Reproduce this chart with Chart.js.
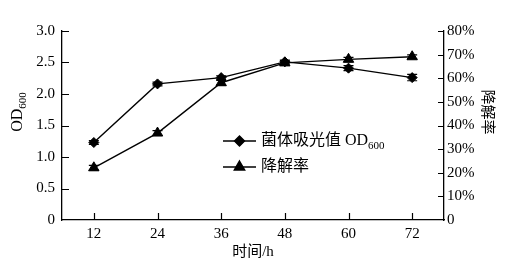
<!doctype html><html lang="zh">
<head>
<meta charset="utf-8">
<title>OD600 与降解率</title>
<script src="https://cdn.jsdelivr.net/npm/chart.js@4"></script>
<style>
html,body{margin:0;padding:0;background:#fff}
#wrap{width:525px;height:276px}
</style>
</head>
<body>
<div id="wrap"><canvas id="c" width="525" height="276"></canvas></div>
<script>
// data
const hours=['12','24','36','48','60','72'];
const od600=[1.23,2.16,2.26,2.51,2.41,2.26];
const odErr=[0.03,0.03,0.03,0.03,0.04,0.05];
const degr=[22.1,36.8,58.1,66.5,68.0,69.1];
const degrErr=[1.0,1.0,1.0,1.0,0.8,0.8];
const odTicks=[0,0.5,1,1.5,2,2.5,3];
const pctTicks=[0,10,20,30,40,50,60,70,80];

const SERIF='"Liberation Serif","Times New Roman","Noto Sans CJK SC",serif';
const f=(s)=>s+'px '+SERIF;

// inner tick marks, error bars, axis titles and legend
const extras={id:'extras',afterDatasetsDraw(ch){
  const c=ch.ctx,a=ch.chartArea,x=ch.scales.x,y=ch.scales.y,y1=ch.scales.y1;
  c.save();c.strokeStyle='#000';c.fillStyle='#000';c.lineWidth=1.2;
  // ticks pointing inward
  c.beginPath();
  y.ticks.forEach(t=>{const p=Math.round(y.getPixelForValue(t.value))+.5;if(p>a.bottom-1)return;c.moveTo(a.left,p);c.lineTo(a.left+7,p)});
  y1.ticks.forEach(t=>{const p=Math.round(y1.getPixelForValue(t.value))+.5;if(p>a.bottom-1)return;c.moveTo(a.right,p);c.lineTo(a.right-6,p)});
  hours.forEach((h,i)=>{const p=Math.round(x.getPixelForValue(i))+.5;c.moveTo(p,a.bottom);c.lineTo(p,a.bottom-7)});
  c.stroke();
  // error bars
  c.beginPath();
  od600.forEach((v,i)=>{const px=x.getPixelForValue(i),t=y.getPixelForValue(v+odErr[i]),b=y.getPixelForValue(v-odErr[i]);
    c.moveTo(px,t);c.lineTo(px,b);c.moveTo(px-5,t);c.lineTo(px+5,t);c.moveTo(px-5,b);c.lineTo(px+5,b)});
  degr.forEach((v,i)=>{const px=x.getPixelForValue(i),t=y1.getPixelForValue(v+degrErr[i]),b=y1.getPixelForValue(v-degrErr[i]);
    c.moveTo(px,t);c.lineTo(px,b);c.moveTo(px-5,t);c.lineTo(px+5,t);c.moveTo(px-5,b);c.lineTo(px+5,b)});
  c.stroke();
  // x title
  c.font=f(15);c.textAlign='center';c.textBaseline='middle';
  c.fillText('时间/h',(a.left+a.right)/2,252);
  // left title OD600 rotated
  c.save();c.translate(18,112);c.rotate(-Math.PI/2);
  c.textAlign='left';c.textBaseline='middle';
  c.font=f(16);const w1=c.measureText('OD').width;c.font=f(11);const w2=c.measureText('600').width;
  let sx=-(w1+w2)/2;c.font=f(16);c.fillText('OD',sx,0);c.font=f(11);c.fillText('600',sx+w1,5);
  c.restore();
  // right title rotated clockwise
  c.save();c.translate(487,112);c.rotate(Math.PI/2);
  c.font=f(15);c.textAlign='center';c.textBaseline='middle';c.fillText('降解率',0,0);c.restore();
  // legend
  const L=[{txt:'菌体吸光值 OD',sub:'600',style:'rectRot',r:5,y:141},{txt:'降解率',style:'triangle',r:6,y:167}];
  L.forEach(it=>{
    c.beginPath();c.lineWidth=1.4;c.moveTo(223,it.y);c.lineTo(256,it.y);c.stroke();
    Chart.helpers.drawPoint(c,{pointStyle:it.style,radius:it.r,rotation:0,borderWidth:1},239.5,it.y);c.fill();
    c.font=f(16);c.textAlign='left';c.textBaseline='middle';c.fillText(it.txt,261,it.y);
    if(it.sub){const w=c.measureText(it.txt).width;c.font=f(11);c.fillText(it.sub,261+w,it.y+5)}
  });
  c.restore();
}};

new Chart(document.getElementById('c'),{
  type:'line',
  data:{labels:hours,datasets:[
    {label:'菌体吸光值 OD600',data:od600,yAxisID:'y',borderColor:'#000',backgroundColor:'#000',borderWidth:1.4,
     pointStyle:'rectRot',pointRadius:5,pointBorderWidth:1,tension:0},
    {label:'降解率',data:degr,yAxisID:'y1',borderColor:'#000',backgroundColor:'#000',borderWidth:1.4,
     pointStyle:'triangle',pointRadius:6,pointBorderWidth:1,tension:0}
  ]},
  options:{
    responsive:false,animation:false,devicePixelRatio:1,
    layout:{padding:{top:31,left:0,right:0,bottom:0}},
    plugins:{legend:{display:false},tooltip:{enabled:false}},
    scales:{
      x:{type:'category',offset:true,
        grid:{display:true,drawOnChartArea:false,drawTicks:false},
        border:{display:true,color:'#000',width:1.3},
        ticks:{color:'#000',font:{family:SERIF,size:15},padding:5,maxRotation:0},
        afterFit:s=>{s.height=56}},
      y:{position:'left',min:0,max:3,
        afterBuildTicks:s=>{s.ticks=odTicks.map(v=>({value:v}))},
        grid:{display:true,drawOnChartArea:false,drawTicks:false},
        border:{display:true,color:'#000',width:1.3},
        ticks:{color:'#000',font:{family:SERIF,size:15},padding:7,callback:v=>v===0?'0':v.toFixed(1)},
        afterFit:s=>{s.width=62}},
      y1:{position:'right',min:0,max:80,
        afterBuildTicks:s=>{s.ticks=pctTicks.map(v=>({value:v}))},
        grid:{display:true,drawOnChartArea:false,drawTicks:false},
        border:{display:true,color:'#000',width:1.3},
        ticks:{color:'#000',font:{family:SERIF,size:15},padding:3,callback:v=>v===0?'0':v+'%'},
        afterFit:s=>{s.width=81}}
    }
  },
  plugins:[extras]
});
</script>
</body></html>
